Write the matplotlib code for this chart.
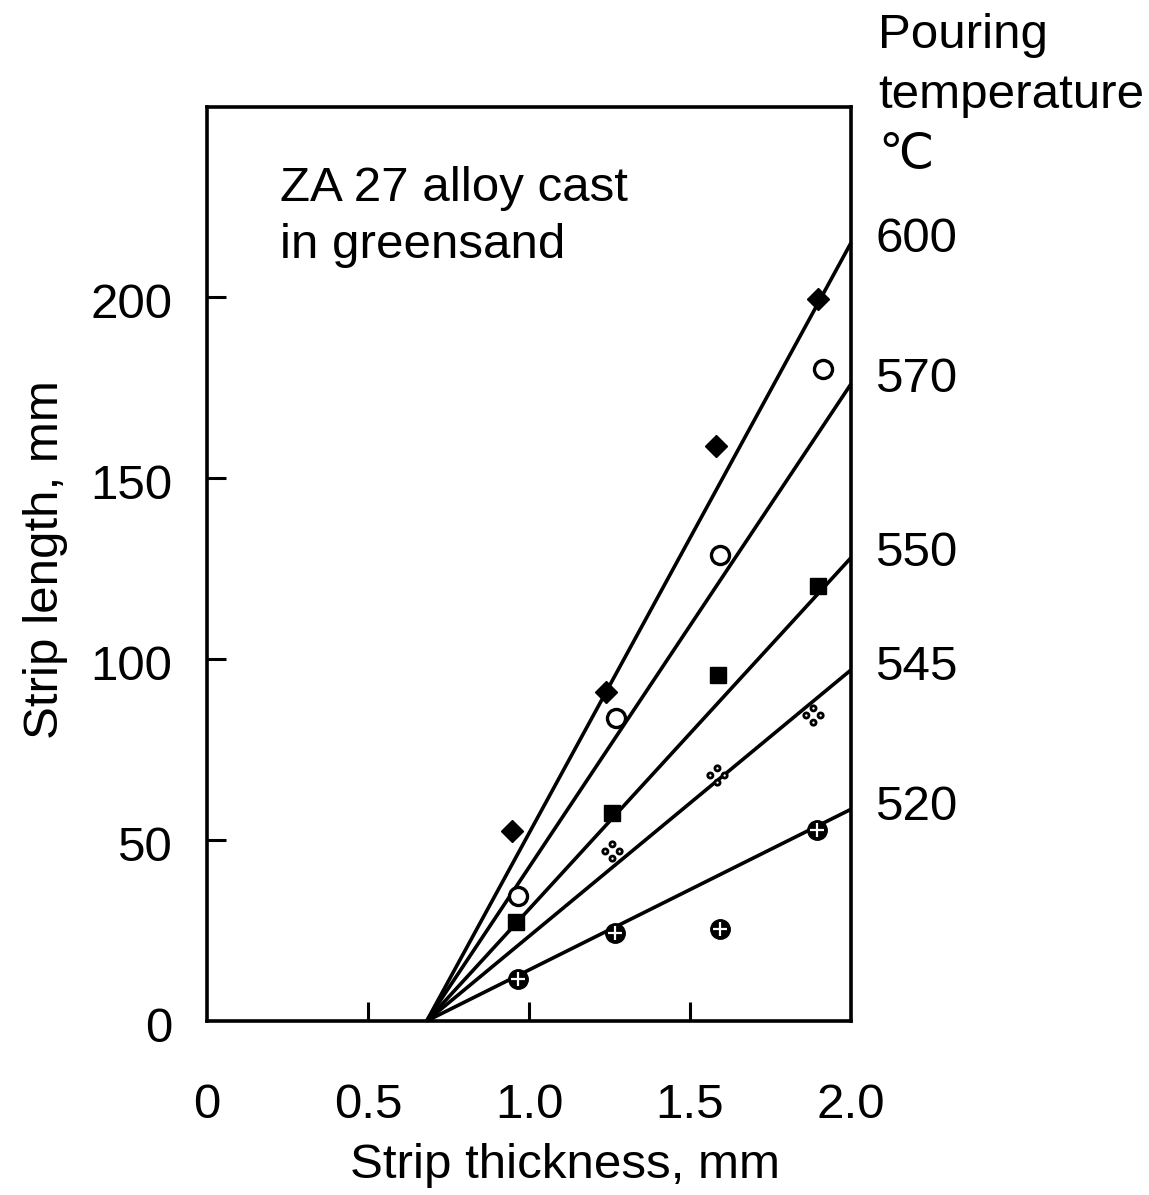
import matplotlib
matplotlib.use("Agg")
import matplotlib.pyplot as plt
from matplotlib.path import Path
from matplotlib.transforms import ScaledTranslation
import numpy as np

plt.rcParams['font.family'] = ['Liberation Sans', 'DejaVu Sans']

# Measured strip lengths (mm) versus strip thickness (mm) per pouring temperature
temps = ["600", "570", "550", "545", "520"]

x_600 = [0.946, 1.239, 1.581, 1.898]
y_600 = [52.5, 90.9, 158.8, 199.5]

x_570 = [0.967, 1.270, 1.593, 1.914]
y_570 = [34.6, 83.8, 128.8, 180.2]

x_550 = [0.960, 1.257, 1.588, 1.898]
y_550 = [27.3, 57.5, 95.5, 120.1]

x_545 = [1.257, 1.583, 1.883]
y_545 = [47.0, 68.0, 84.5]

x_520 = [0.967, 1.267, 1.593, 1.893]
y_520 = [11.7, 24.2, 25.5, 52.9]

# Fitted lines: common intercept on the thickness axis, value at 2.0 mm
fit_x0 = 0.682
fit_x1 = 2.0
fit_end = [215.0, 176.0, 128.0, 97.0, 58.5]

x_ticks = [0, 0.5, 1.0, 1.5, 2.0]
x_ticklabels = ["0", "0.5", "1.0", "1.5", "2.0"]
y_ticks = [0, 50, 100, 150, 200]
y_ticklabels = ["0", "50", "100", "150", "200"]

FS = 35.5

fig = plt.figure(figsize=(11.49, 11.95), dpi=100)
ax = fig.add_axes([0.1802, 0.1456, 0.5605, 0.7649])
ax.set_xlim(0, 2.0)
ax.set_ylim(0, 252.5)

# fitted lines
for end in fit_end:
    ax.plot([fit_x0, fit_x1], [0, end], color='black', lw=2.6,
            solid_capstyle='butt', zorder=2, clip_on=False)

# four-dot marker
dots = [Path.circle((dx, dy), 0.36) for dx, dy in [(0, 1), (0, -1), (1, 0), (-1, 0)]]
four_dots = Path.make_compound_path(*dots)

ax.plot(x_600, y_600, linestyle='none', marker='D', ms=11.5, color='black', zorder=3)
ax.plot(x_570, y_570, linestyle='none', marker='o', ms=13, mfc='white',
        mec='black', mew=2.4, zorder=3)
ax.plot(x_550, y_550, linestyle='none', marker='s', ms=12, color='black', zorder=3)
ax.plot(x_545, y_545, linestyle='none', marker=four_dots, ms=14, mfc='white',
        mec='black', mew=2.0, zorder=3)
ax.plot(x_520, y_520, linestyle='none', marker='o', ms=14, color='black', zorder=3)
ax.plot(x_520, y_520, linestyle='none', marker='+', ms=10, mec='white',
        mew=1.6, zorder=4)

# axes styling
for s in ax.spines.values():
    s.set_linewidth(2.6)
ax.set_xticks(x_ticks[1:-1])
ax.set_xticklabels([])
ax.set_yticks(y_ticks[1:])
ax.set_yticklabels([])
ax.tick_params(direction='in', length=14, width=2.2, top=False, right=False)

# tick labels placed below / left of the frame
for xv, lab in zip(x_ticks, x_ticklabels):
    ax.text(xv, -0.092, lab, transform=ax.get_xaxis_transform(),
            ha='center', va='center', fontsize=FS)
off = ScaledTranslation(0, -0.08, fig.dpi_scale_trans)
for yv, lab in zip(y_ticks, y_ticklabels):
    ax.text(-0.054, yv, lab, transform=ax.get_yaxis_transform() + off,
            ha='right', va='center', fontsize=FS)

fig.text(565 / 1149, 1 - 1165 / 1195, "Strip thickness, mm", ha='center',
         va='center', fontsize=FS)
fig.text(46 / 1149, 1 - 560 / 1195, "Strip length, mm", ha='center',
         va='center', rotation=90, fontsize=FS)

ax.text(0.113, 0.935, "ZA 27 alloy cast\nin greensand", transform=ax.transAxes,
        ha='left', va='top', fontsize=FS, linespacing=1.33)

# temperature labels on the right
label_y_px = [240, 380, 553, 668, 808]
for t, ypx in zip(temps, label_y_px):
    fig.text(875 / 1149, 1 - ypx / 1195, t, ha='left', va='center', fontsize=FS)

for txt, ypx in [("Pouring", 35), ("temperature", 95), ("\u2103", 155)]:
    fig.text(878 / 1149, 1 - ypx / 1195, txt, ha='left', va='center', fontsize=FS)

fig.savefig("out.png", dpi=100, facecolor='white')
